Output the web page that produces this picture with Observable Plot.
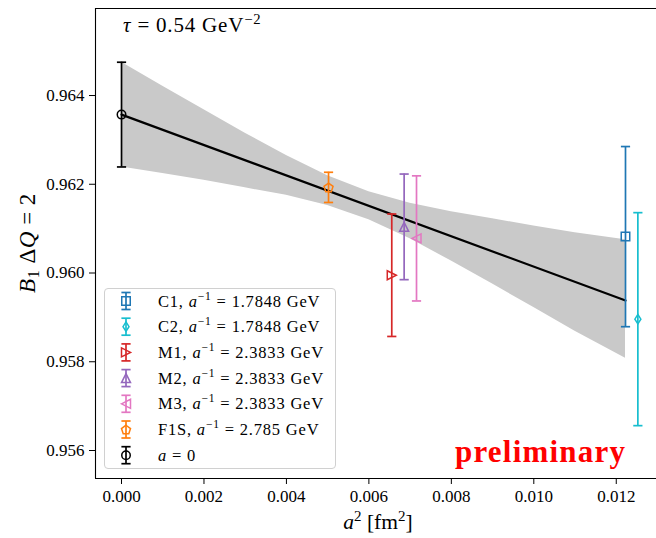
<!DOCTYPE html>
<html><head><meta charset="utf-8">
<script src="https://cdn.jsdelivr.net/npm/d3@7"></script>
<script src="https://cdn.jsdelivr.net/npm/@observablehq/plot@0.6"></script>
<style>
body{margin:0;background:#fff;}
#chart{position:relative;width:656px;height:538px;}
</style></head><body><div id="chart"></div>
<script>
// ---- data ----
const seriesNames = ["C1", "C2", "M1", "M2", "M3", "F1S", "a=0"];
const inverseSpacing = ["1.7848", "1.7848", "2.3833", "2.3833", "2.3833", "2.785", null];
const seriesA2 = [0.012224, 0.012524, 0.006555, 0.006855, 0.007155, 0.005021, 0];
const seriesValue = [0.96082, 0.95896, 0.95995, 0.96104, 0.96078, 0.96193, 0.96357];
const seriesError = [0.00203, 0.00240, 0.00138, 0.00119, 0.00141, 0.00034, 0.00118];
const seriesColors = ["#1f77b4", "#17becf", "#d62728", "#9467bd", "#e377c2", "#ff7f0e", "#000000"];
const seriesMarkers = ["square", "thinDiamond", "triangleRight", "triangleUp", "triangleLeft", "pentagon", "circle"];

const fitX = [0, 0.012224];
const fitY = [0.96357, 0.95938];
const bandX    = [0,       0.001,   0.002,   0.003,   0.004,   0.005,   0.006,   0.007,   0.008,   0.009,   0.010,   0.011,   0.012224];
const bandLow  = [0.96239, 0.96224, 0.96209, 0.96192, 0.96175, 0.96152, 0.96120, 0.96077, 0.96027, 0.95975, 0.95922, 0.95869, 0.95808];
const bandHigh = [0.96475, 0.96421, 0.96368, 0.96315, 0.96265, 0.96219, 0.96183, 0.96157, 0.96138, 0.96122, 0.96106, 0.96091, 0.96075];

const xTicks = [0, 0.002, 0.004, 0.006, 0.008, 0.010, 0.012];
const yTicks = [0.956, 0.958, 0.960, 0.962, 0.964];
const xDomain = [-0.000631, 0.012976];
const yDomain = [0.955369, 0.965961];

const tauText = "0.54";
const prelimText = "preliminary";

// ---- marker shapes ----
function polySymbol(pts) {
  return {draw(ctx, size) {
    const r = Math.sqrt(size / Math.PI);
    pts.forEach(([px, py], i) => i ? ctx.lineTo(px * r, py * r) : ctx.moveTo(px * r, py * r));
    ctx.closePath();
  }};
}
const pent = d3.range(5).map(k => { const a = -Math.PI / 2 + k * 2 * Math.PI / 5; return [0.95 * Math.cos(a), 0.95 * Math.sin(a) + 0.1]; });
const symbols = {
  square: polySymbol([[-0.85, -0.85], [0.85, -0.85], [0.85, 0.85], [-0.85, 0.85]]),
  thinDiamond: polySymbol([[0, -0.95], [0.6, 0], [0, 0.95], [-0.6, 0]]),
  triangleRight: polySymbol([[0.9, 0], [-0.9, -0.9], [-0.9, 0.9]]),
  triangleLeft: polySymbol([[-0.9, 0], [0.9, -0.9], [0.9, 0.9]]),
  triangleUp: polySymbol([[0, -0.9], [0.9, 0.9], [-0.9, 0.9]]),
  pentagon: polySymbol(pent),
  circle: {draw(ctx, size) { const r = Math.sqrt(size / Math.PI) * 0.85; ctx.moveTo(r, 0); ctx.arc(0, 0, r, 0, 2 * Math.PI); }}
};
const capSymbol = {draw(ctx, size) { const r = Math.sqrt(size / Math.PI); ctx.moveTo(-r, 0); ctx.lineTo(r, 0); }};

// ---- tables ----
const rows = seriesNames.map((n, i) => ({
  name: n, x: seriesA2[i], y: seriesValue[i],
  lo: seriesValue[i] - seriesError[i], hi: seriesValue[i] + seriesError[i],
  color: seriesColors[i], marker: seriesMarkers[i]
}));
const band = bandX.map((x, i) => ({x, lo: bandLow[i], hi: bandHigh[i]}));
const fit = fitX.map((x, i) => ({x, y: fitY[i]}));

const marks = [
  Plot.areaY(band, {x: "x", y1: "lo", y2: "hi", fill: "#c9c9c9"}),
  Plot.line(fit, {x: "x", y: "y", stroke: "black", strokeWidth: 2.2}),
];
rows.forEach(r => {
  marks.push(Plot.ruleX([r], {x: "x", y1: "lo", y2: "hi", stroke: r.color, strokeWidth: 1.7}));
  marks.push(Plot.dot([{x: r.x, y: r.lo}, {x: r.x, y: r.hi}], {x: "x", y: "y", symbol: capSymbol, r: 4.6, fill: "none", stroke: r.color, strokeWidth: 1.7}));
  marks.push(Plot.dot([r], {x: "x", y: "y", symbol: symbols[r.marker], r: 5, fill: "none", stroke: r.color, strokeWidth: 1.5}));
});
// axis lines (left, top, bottom; right edge is outside the crop)
marks.push(Plot.ruleX([xDomain[0]], {stroke: "black", strokeWidth: 1.1}));
marks.push(Plot.ruleY([yDomain[0], yDomain[1]], {stroke: "black", strokeWidth: 1.1}));

const fmt = d3.format(".3f");
const chart = Plot.plot({
  width: 656, height: 538,
  marginLeft: 95, marginRight: 0, marginTop: 8, marginBottom: 60,
  style: {fontFamily: "'Liberation Serif', serif", fontSize: "17px", color: "black", background: "white", overflow: "visible"},
  x: {domain: xDomain, ticks: xTicks, tickFormat: fmt, tickSize: 6, tickPadding: 5, label: null},
  y: {domain: yDomain, ticks: yTicks, tickFormat: fmt, tickSize: 6, tickPadding: 5, label: null},
  marks
});
document.getElementById("chart").appendChild(chart);

// ---- annotations, axis labels, legend ----
const svg = d3.select(chart);
const F = "'Liberation Serif', serif";

function richText(g, parts, attrs) {
  const t = g.append("text").attr("font-family", F).attr("text-anchor", "start");
  Object.entries(attrs).forEach(([k, v]) => t.attr(k, v));
  parts.forEach(p => {
    const s = t.append("tspan").text(p.t);
    if (p.i) s.attr("font-style", "italic");
    if (p.dy) s.attr("dy", p.dy);
    if (p.fs) s.attr("font-size", p.fs);
  });
  return t;
}

// tau
richText(svg, [
  {t: "τ", i: true}, {t: " = " + tauText + " GeV"}, {t: "−2", dy: -8, fs: "70%"}
], {x: 123, y: 32, "font-size": 21, "letter-spacing": 0.8, fill: "black"});

// preliminary
svg.append("text").attr("x", 455).attr("y", 462).attr("font-family", F).attr("text-anchor", "start")
  .attr("font-weight", "bold").attr("font-size", 31).attr("fill", "#ff0000")
  .attr("textLength", 170).attr("lengthAdjust", "spacing").text(prelimText);

// x label
richText(svg, [
  {t: "a", i: true}, {t: "2", dy: -8, fs: "70%"}, {t: " [fm", dy: 8}, {t: "2", dy: -8, fs: "70%"}, {t: "]", dy: 8}
], {x: 378, y: 529, "font-size": 21.5, "text-anchor": "middle", fill: "black"});

// y label
richText(svg, [
  {t: "B", i: true}, {t: "1", dy: 4, fs: "70%"}, {t: " Δ", dy: -4}, {t: "Q", i: true}, {t: " = 2"}
], {transform: "translate(35,243) rotate(-90)", "font-size": 23, "letter-spacing": 0.5, "text-anchor": "middle", fill: "black"});

// legend
const lg = svg.append("g");
lg.append("rect").attr("x", 104.5).attr("y", 288.5).attr("width", 231).attr("height", 180)
  .attr("rx", 3.5).attr("fill", "white").attr("fill-opacity", 0.8).attr("stroke", "#d0d0d0").attr("stroke-width", 1);
rows.forEach((r, i) => {
  const cy = 301 + i * 25.7, cx = 126;
  lg.append("line").attr("x1", cx).attr("x2", cx).attr("y1", cy - 8.5).attr("y2", cy + 8.5).attr("stroke", r.color).attr("stroke-width", 1.7);
  [cy - 8.5, cy + 8.5].forEach(yy => lg.append("line").attr("x1", cx - 4.6).attr("x2", cx + 4.6).attr("y1", yy).attr("y2", yy).attr("stroke", r.color).attr("stroke-width", 1.7));
  lg.append("path").attr("transform", `translate(${cx},${cy})`)
    .attr("d", d3.symbol(symbols[r.marker], Math.PI * 25)()).attr("fill", "none").attr("stroke", r.color).attr("stroke-width", 1.5);
  const parts = inverseSpacing[i] === null
    ? [{t: "a", i: true}, {t: " = 0"}]
    : [{t: r.name + ", "}, {t: "a", i: true}, {t: "−1", dy: -7, fs: "70%"}, {t: " = " + inverseSpacing[i] + " GeV", dy: 7}];
  richText(lg, parts, {x: 158, y: cy + 5.5, "font-size": 16.5, "letter-spacing": 0.8, fill: "black"});
});
</script></body></html>
